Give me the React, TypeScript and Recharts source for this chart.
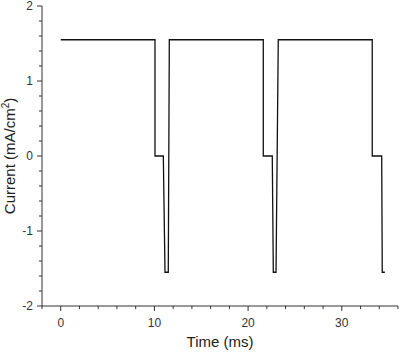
import React from 'react';
import { LineChart, Line, XAxis, YAxis } from 'recharts';

const times = [0, 10.06, 10.06, 10.95, 11.13, 11.48, 11.59, 21.62, 21.62, 22.58, 22.69, 22.98, 23.22, 33.25, 33.25, 34.26, 34.32, 34.6];
const currents = [1.55, 1.55, 0, 0, -1.55, -1.55, 1.55, 1.55, 0, 0, -1.55, -1.55, 1.55, 1.55, 0, 0, -1.55, -1.55];
const xTicks = [-2, 0, 2, 4, 6, 8, 10, 12, 14, 16, 18, 20, 22, 24, 26, 28, 30, 32, 34, 36];
const xMajor = [0, 10, 20, 30];
const yTicks = [-2, -1.8, -1.6, -1.4, -1.2, -1, -0.8, -0.6, -0.4, -0.2, 0, 0.2, 0.4, 0.6, 0.8, 1, 1.2, 1.4, 1.6, 1.8, 2];
const yMajor = [-2, -1, 0, 1, 2];

const data = times.map((t, i) => ({ t, c: currents[i] }));

const AXIS = '#333';
const FONT = 'Arial, "Liberation Sans", sans-serif';

const XTick = (props: any) => {
  const { x, y, payload } = props;
  const v = payload.value;
  const major = xMajor.some((m) => Math.abs(m - v) < 1e-6);
  return (
    <g>
      <line x1={x} x2={x} y1={y} y2={y + (major ? 5 : 3)} stroke={AXIS} strokeWidth={1} />
      {major && (
        <text x={x} y={y + 21} textAnchor="middle" fontSize={12} fill="#333" fontFamily={FONT}>
          {v}
        </text>
      )}
    </g>
  );
};

const YTick = (props: any) => {
  const { x, y, payload } = props;
  const v = payload.value;
  const major = yMajor.some((m) => Math.abs(m - v) < 1e-6);
  return (
    <g>
      <line x1={x} x2={x - (major ? 5 : 3)} y1={y} y2={y} stroke={AXIS} strokeWidth={1} />
      {major && (
        <text x={x - 9} y={y + 4} textAnchor="end" fontSize={12} fill="#333" fontFamily={FONT}>
          {Math.round(v)}
        </text>
      )}
    </g>
  );
};

const XLabel = (props: any) => {
  const vb = props.viewBox || { x: 42, y: 306, width: 356, height: 49 };
  return (
    <text x={vb.x + vb.width / 2} y={vb.y + 41} textAnchor="middle" fontSize={15} fill="#222" fontFamily={FONT}>
      Time (ms)
    </text>
  );
};

const YLabel = (props: any) => {
  const vb = props.viewBox || { x: 0, y: 6, width: 42, height: 300 };
  const cx = 15;
  const cy = vb.y + vb.height / 2;
  return (
    <text x={cx} y={cy} textAnchor="middle" fontSize={15} fill="#222" fontFamily={FONT} transform={`rotate(-90 ${cx} ${cy})`}>
      Current (mA/cm
      <tspan fontSize={10} dy={-6}>2</tspan>
      <tspan dy={6}>)</tspan>
    </text>
  );
};

export default function App() {
  return (
    <div style={{ position: 'absolute', left: 0, top: 0, width: 400, height: 355, background: '#fff' }}>
      <LineChart width={400} height={355} data={data} margin={{ top: 6, right: 2, bottom: 0, left: 0 }}>
        <XAxis
          dataKey="t"
          type="number"
          domain={[-2, 36]}
          ticks={xTicks}
          interval={0}
          tickSize={0}
          tickMargin={0}
          tickLine={false}
          tick={<XTick />}
          height={49}
          stroke={AXIS}
          allowDataOverflow
          label={<XLabel />}
        />
        <YAxis
          dataKey="c"
          type="number"
          domain={[-2, 2]}
          ticks={yTicks}
          interval={0}
          tickSize={0}
          tickMargin={0}
          tickLine={false}
          tick={<YTick />}
          width={42}
          stroke={AXIS}
          allowDataOverflow
          label={<YLabel />}
        />
        <Line
          type="linear"
          dataKey="c"
          stroke="#111"
          strokeWidth={1.3}
          dot={false}
          isAnimationActive={false}
        />
      </LineChart>
    </div>
  );
}
